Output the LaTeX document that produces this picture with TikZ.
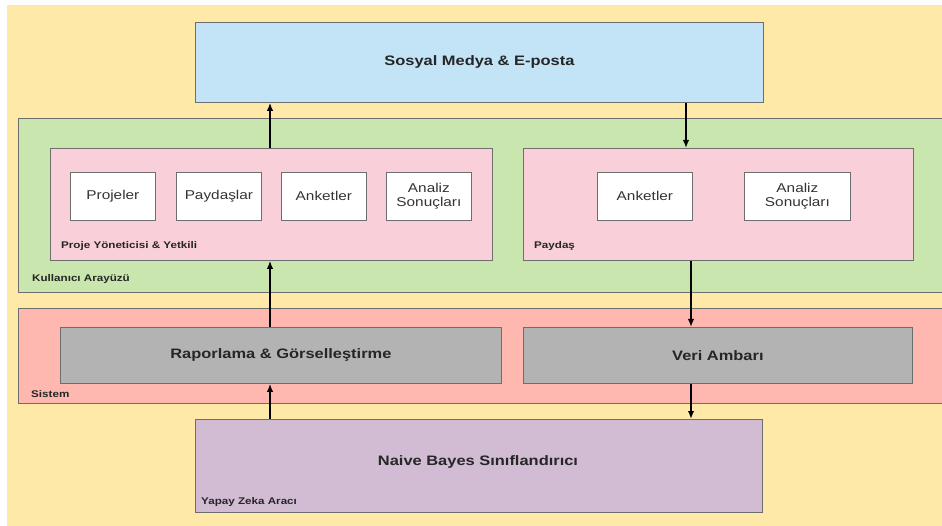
\documentclass[tikz,border=0pt]{standalone}
\usepackage{fontspec}
\setmainfont{Liberation Sans}[FakeStretch=1.2]
\usetikzlibrary{arrows.meta,shadows}
\definecolor{bgyellow}{HTML}{FFE9A8}
\definecolor{cblue}{HTML}{C2E4F6}
\definecolor{cgreen}{HTML}{C8E6AD}
\definecolor{cpink}{HTML}{F9D0DA}
\definecolor{csalmon}{HTML}{FFB8B0}
\definecolor{cgrey}{HTML}{B3B3B3}
\definecolor{cpurple}{HTML}{D2BCD4}
\definecolor{cborder}{HTML}{6E6E6E}
\begin{document}
\begin{tikzpicture}[x=1pt,y=-1pt,
  box/.style={draw=cborder, line width=0.8pt, inner sep=0pt, anchor=north west,
    drop shadow={shadow xshift=0.8pt, shadow yshift=-0.8pt, opacity=0.25, fill=black}},
  mainlabel/.style={font=\fontsize{13.7}{16}\selectfont\bfseries, text=black!85},
  itemlabel/.style={font=\fontsize{12.8}{14.5}\selectfont, text=black!80, align=center},
  grouplabel/.style={font=\fontsize{9.7}{11}\selectfont\bfseries, text=black!85, anchor=base west, inner sep=0pt},
  arr/.style={line width=1.6pt, -{Latex[length=8pt,width=6.5pt]}}]
\useasboundingbox (0,0) rectangle (942,526);
\clip (0,0) rectangle (942,526);
\fill[white] (0,0) rectangle (942,526);
\fill[bgyellow] (7,5) rectangle (944,528);

% top
\node[box, fill=cblue, minimum width=568pt, minimum height=80pt, mainlabel] (blue) at (195,22) {Sosyal Medya \& E-posta};

% user interface
\node[box, fill=cgreen, minimum width=940pt, minimum height=174pt] (green) at (18,118) {};
\node[grouplabel] (lblui) at (32,282) {Kullanıcı Arayüzü};

\node[box, fill=cpink, minimum width=442pt, minimum height=112pt] (pinkL) at (50,148) {};
\node[grouplabel] (lblpy) at (61,249) {Proje Yöneticisi \& Yetkili};
\node[box, fill=white, minimum width=85pt, minimum height=48pt, itemlabel] (projeler) at (70,172) {Projeler};
\node[box, fill=white, minimum width=85pt, minimum height=48pt, itemlabel] (paydaslar) at (176,172) {Paydaşlar};
\node[box, fill=white, minimum width=85pt, minimum height=48pt, itemlabel] (anketL) at (281,172) {Anketler};
\node[box, fill=white, minimum width=85pt, minimum height=48pt, itemlabel] (analizL) at (386,172) {Analiz\\Sonuçları};

\node[box, fill=cpink, minimum width=390pt, minimum height=112pt] (pinkR) at (523,148) {};
\node[grouplabel] (lblpd) at (534,249) {Paydaş};
\node[box, fill=white, minimum width=95pt, minimum height=48pt, itemlabel] (anketR) at (597,172) {Anketler};
\node[box, fill=white, minimum width=106pt, minimum height=48pt, itemlabel] (analizR) at (744,172) {Analiz\\Sonuçları};

% system
\node[box, fill=csalmon, minimum width=940pt, minimum height=95pt] (sys) at (18,308) {};
\node[grouplabel] (lblsys) at (31,397) {Sistem};
\node[box, fill=cgrey, minimum width=441pt, minimum height=56pt, mainlabel] (rapor) at (60,327) {Raporlama \& Görselleştirme};
\node[box, fill=cgrey, minimum width=389pt, minimum height=56pt, mainlabel] (veri) at (523,327) {Veri Ambarı};

% AI
\node[box, fill=cpurple, minimum width=567pt, minimum height=93pt] (ai) at (195,419) {};
\node[mainlabel] (naive) at (478,462) {Naive Bayes Sınıflandırıcı};
\node[grouplabel] (lblai) at (201,504) {Yapay Zeka Aracı};

% connectors
\coordinate (cl) at (270,0);
\coordinate (c2) at (686,0);
\coordinate (cr) at (691,0);
\draw[arr] (cl |- pinkL.north) -- (cl |- blue.south);
\draw[arr] (c2 |- blue.south) -- (c2 |- pinkR.north);
\draw[arr] (cl |- rapor.north) -- (cl |- pinkL.south);
\draw[arr] (cr |- pinkR.south) -- (cr |- veri.north);
\draw[arr] (cl |- ai.north) -- (cl |- rapor.south);
\draw[arr] (cr |- veri.south) -- (cr |- ai.north);
\end{tikzpicture}
\end{document}
